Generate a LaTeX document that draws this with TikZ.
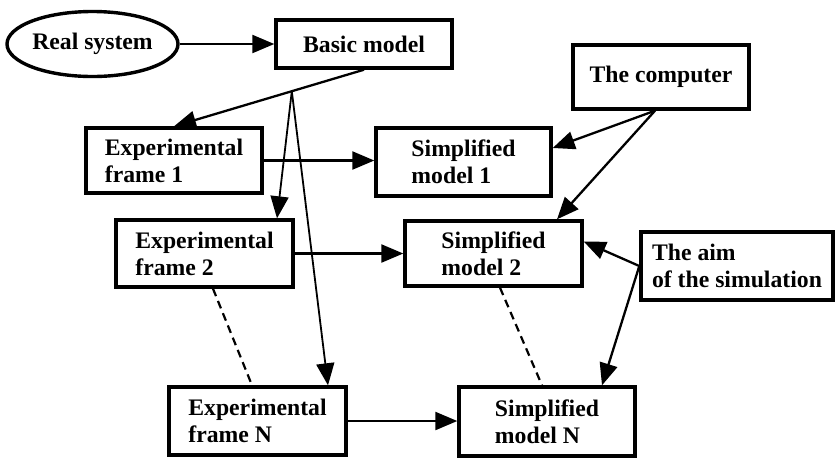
\documentclass[tikz,border=0pt]{standalone}
\usepackage{fontspec}
\setmainfont{Liberation Serif}
\usepackage{tikz}
\usetikzlibrary{calc,arrows.meta,shapes.geometric}

\tikzset{
  simbox/.style={draw, line width=1.7pt, align=left, inner sep=0pt,
    font=\bfseries\fontsize{11.85}{13.5}\selectfont},
  simoval/.style={simbox, ellipse},
  flow/.style={->, line width=1.15pt},
  fan/.style={->, line width=0.9pt},
  link/.style={line width=1.1pt, dash pattern=on 4pt off 2.6pt}
}

\begin{document}
\begin{tikzpicture}[x=0.5pt, y=-0.5pt, >={Triangle[length=11pt,width=9pt]}]
  \useasboundingbox (0,0) rectangle (835,457);
  % ------- top row -------
  \node[simoval, minimum width=85.5pt, minimum height=32.5pt] (real) at (92.5,44) {Real system};
  \node[simbox, minimum width=88pt, minimum height=24pt] (basic) at (364,44) {Basic model};
  \node[simbox, minimum width=88pt, minimum height=32pt] (comp) at (661,77) {The computer};
  % ------- experimental frames -------
  \node[simbox, minimum width=88pt, minimum height=32.5pt] (ef1) at (174,160.5) {Experimental\\frame 1};
  \node[simbox, minimum width=88.5pt, minimum height=33.5pt] (ef2) at (204.5,253.5) {Experimental\\frame 2};
  \node[simbox, minimum width=88.5pt, minimum height=34pt] (efN) at (257.5,421) {Experimental\\frame N};
  % ------- simplified models -------
  \node[simbox, minimum width=87.5pt, minimum height=34pt] (sm1) at (463.5,162) {Simplified\\model 1};
  \node[simbox, minimum width=88.5pt, minimum height=32.5pt] (sm2) at (493.5,253.5) {Simplified\\model 2};
  \node[simbox, minimum width=88pt, minimum height=34.5pt] (smN) at (547,421.5) {Simplified\\model N};
  \node[simbox, minimum width=96pt, minimum height=34pt] (aim) at (737,266) {The aim\\of the simulation};

  % ------- connectors -------
  \draw[flow] (real.east) -- (real.east -| basic.west);
  \draw[flow] (basic.south) -- coordinate[pos=0.38] (split) (ef1.north);
  \draw[fan] (split) -- ($(ef2.north)+(72.5,0)$);
  \draw[fan] (split) -- ($(efN.north)+(70.5,0)$);
  \draw[flow] (ef1.east) -- (ef1.east -| sm1.west);
  \draw[flow] (ef2.east) -- (ef2.east -| sm2.west);
  \draw[flow] (efN.east) -- (efN.east -| smN.west);
  \draw[flow] ($(comp.south)+(-6,0)$) -- ($(sm1.east)+(0,-14)$);
  \draw[flow] ($(comp.south)+(-6,0)$) -- ($(sm2.north)+(63.5,0)$);
  \draw[flow] (aim.west) -- ($(sm2.east)+(0,-12)$);
  \draw[flow] (aim.west) -- ($(smN.north)+(55,0)$);
  % dashed: the frames and models in between
  \draw[link] ($(ef2.south)+(8.5,0)$) -- ($(efN.north)+(-5.5,0)$);
  \draw[link] ($(sm2.south)+(6.5,0)$) -- ($(smN.north)+(-5,0)$);
\end{tikzpicture}
\end{document}
